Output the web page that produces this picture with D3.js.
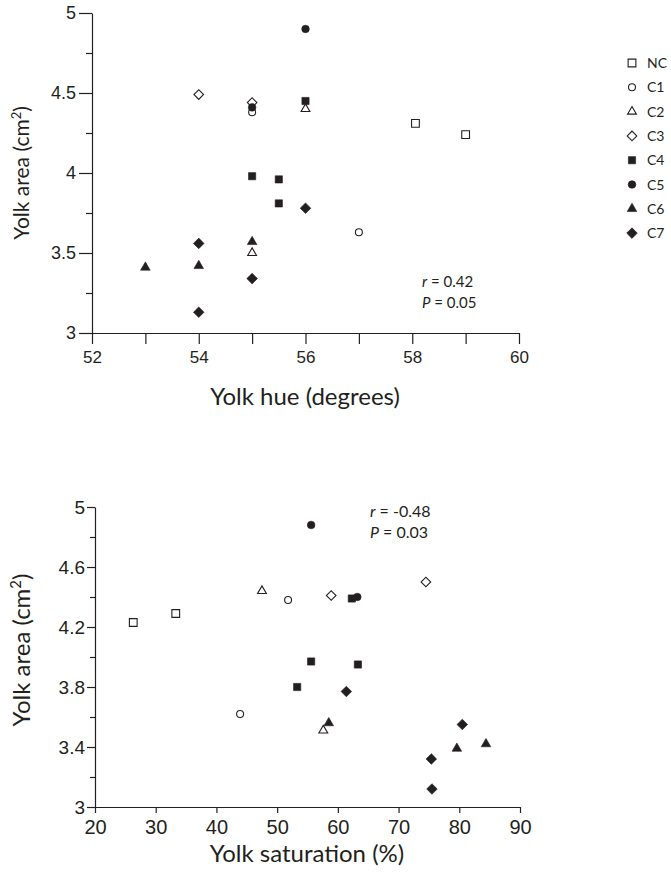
<!DOCTYPE html>
<html>
<head>
<meta charset="utf-8">
<script src="https://cdn.jsdelivr.net/npm/d3@7.9.0/dist/d3.min.js"></script>
<style>
  body { margin: 0; background: #fff; }
  svg { display: block; font-family: Lato, "Noto Sans", sans-serif; }
  .axis path, .axis line { stroke: #231f20; stroke-width: 1.2; }
  .axis text { fill: #231f20; }
</style>
</head>
<body>
<svg width="671" height="877"></svg>
<script>
const groups = ["NC", "C1", "C2", "C3", "C4", "C5", "C6", "C7"];

// top panel: yolk hue vs yolk area
const hueGroup = ["NC","NC","C1","C1","C2","C2","C3","C3","C4","C4","C4","C4","C5","C5","C6","C6","C6","C7","C7","C7","C7"];
const hueDeg   = [58.06, 59, 55, 57, 56, 55, 54, 55, 56, 55, 55.5, 55.5, 55, 56, 53, 54, 55, 54, 55, 54, 56];
const hueArea  = [4.31, 4.24, 4.38, 3.63, 4.40, 3.50, 4.49, 4.44, 4.45, 3.98, 3.96, 3.81, 4.41, 4.90, 3.41, 3.42, 3.57, 3.56, 3.34, 3.13, 3.78];

// bottom panel: yolk saturation vs yolk area
const satGroup = ["NC","NC","C1","C1","C2","C2","C3","C3","C4","C4","C4","C4","C5","C5","C6","C6","C6","C7","C7","C7","C7"];
const satPct   = [26.3, 33.3, 51.8, 43.9, 47.5, 57.6, 58.9, 74.5, 62.3, 53.3, 55.6, 63.3, 55.6, 63.2, 58.5, 84.4, 79.6, 61.4, 80.5, 75.4, 75.5];
const satArea  = [4.23, 4.29, 4.38, 3.62, 4.44, 3.51, 4.41, 4.50, 4.39, 3.80, 3.97, 3.95, 4.88, 4.40, 3.56, 3.42, 3.39, 3.77, 3.55, 3.32, 3.12];

const hueTicks = [52, 53, 54, 55, 56, 57, 58, 59, 60];
const hueLabels = [52, 54, 56, 58, 60];
const hueAreaTicks = [3, 3.5, 4, 4.5, 5];
const hueAreaMinor = [3.25, 3.75, 4.25, 4.75];
const satTicks = [20, 30, 40, 50, 60, 70, 80, 90];
const satAreaTicks = [3, 3.4, 3.8, 4.2, 4.6, 5];
const satAreaMinor = [3.2, 3.6, 4.0, 4.4, 4.8];

const ink = "#231f20";
const svg = d3.select("svg");

// marker style per group
const shape = {
  NC: { type: d3.symbolSquare, size: 60, fill: false, rot: 0 },
  C1: { type: d3.symbolCircle, size: 38, fill: false, rot: 0 },
  C2: { type: d3.symbolTriangle, size: 34, fill: false, rot: 0 },
  C3: { type: d3.symbolSquare, size: 46, fill: false, rot: 45 },
  C4: { type: d3.symbolSquare, size: 52, fill: true, rot: 0 },
  C5: { type: d3.symbolCircle, size: 46, fill: true, rot: 0 },
  C6: { type: d3.symbolTriangle, size: 40, fill: true, rot: 0 },
  C7: { type: d3.symbolSquare, size: 56, fill: true, rot: 45 }
};

function marker(sel, g, x, y) {
  const s = shape[g];
  sel.append("path")
    .attr("d", d3.symbol().type(s.type).size(s.size)())
    .attr("transform", `translate(${x},${y}) rotate(${s.rot})`)
    .attr("fill", s.fill ? ink : "#fff")
    .attr("stroke", ink)
    .attr("stroke-width", s.fill ? 0.6 : 1.1);
}

function yTitle(x, y, size) {
  const t = svg.append("text")
    .attr("transform", `translate(${x},${y}) rotate(-90)`)
    .attr("text-anchor", "middle")
    .attr("font-size", size)
    .attr("fill", ink);
  t.append("tspan").text("Yolk area (cm");
  t.append("tspan").attr("baseline-shift", "super").attr("font-size", size * 0.62).text("2");
  t.append("tspan").text(")");
}

// ---------- top panel ----------
const x1 = d3.scaleLinear().domain([52, 60]).range([92, 519]);
const y1 = d3.scaleLinear().domain([3, 5]).range([333, 13]);

svg.append("g").attr("class", "axis")
  .attr("transform", "translate(0,333)")
  .call(d3.axisBottom(x1).tickValues(hueTicks).tickSize(11).tickSizeOuter(0)
    .tickFormat(d => hueLabels.includes(d) ? d : ""))
  .call(g => g.selectAll("text").attr("font-size", 17).attr("dy", "0.95em"));

svg.append("g").attr("class", "axis")
  .attr("transform", "translate(92,0)")
  .call(d3.axisLeft(y1).tickValues(hueAreaMinor).tickSize(6).tickFormat(""))
  .call(g => g.select(".domain").remove());
svg.append("g").attr("class", "axis")
  .attr("transform", "translate(92,0)")
  .call(d3.axisLeft(y1).tickValues(hueAreaTicks).tickSize(13).tickSizeOuter(0).tickPadding(3)
    .tickFormat(d3.format("~g")))
  .call(g => g.selectAll("text").attr("font-size", 18));

hueGroup.forEach((g, i) => marker(svg, g, x1(hueDeg[i]), y1(hueArea[i])));

const a1 = svg.append("text").attr("x", 422).attr("y", 287).attr("font-size", 15).attr("fill", ink);
a1.append("tspan").attr("font-style", "italic").text("r");
a1.append("tspan").text(" = 0.42");
const a2 = svg.append("text").attr("x", 422).attr("y", 308).attr("font-size", 15).attr("fill", ink);
a2.append("tspan").attr("font-style", "italic").text("P");
a2.append("tspan").text(" = 0.05");

svg.append("text").attr("x", 305).attr("y", 405).attr("text-anchor", "middle")
  .attr("font-size", 24).attr("fill", ink).text("Yolk hue (degrees)");
yTitle(29, 173, 21);

// legend
const legend = svg.append("g");
groups.forEach((g, i) => {
  const cy = 63 + i * 24.3;
  marker(legend, g, 632, cy);
  legend.append("text").attr("x", 647).attr("y", cy + 5)
    .attr("font-size", 14).attr("fill", ink).text(g);
});

// ---------- bottom panel ----------
const x2 = d3.scaleLinear().domain([20, 90]).range([95, 520]);
const y2 = d3.scaleLinear().domain([3, 5]).range([807, 507]);

svg.append("g").attr("class", "axis")
  .attr("transform", "translate(0,807)")
  .call(d3.axisBottom(x2).tickValues(satTicks).tickSize(6).tickSizeOuter(0).tickPadding(5))
  .call(g => g.selectAll("text").attr("font-size", 20).attr("dy", "0.8em"));

svg.append("g").attr("class", "axis")
  .attr("transform", "translate(95,0)")
  .call(d3.axisLeft(y2).tickValues(satAreaMinor).tickSize(5).tickFormat(""))
  .call(g => g.select(".domain").remove());
svg.append("g").attr("class", "axis")
  .attr("transform", "translate(95,0)")
  .call(d3.axisLeft(y2).tickValues(satAreaTicks).tickSize(8).tickSizeOuter(0).tickPadding(2)
    .tickFormat(d3.format("~g")))
  .call(g => g.selectAll("text").attr("font-size", 19));

satGroup.forEach((g, i) => marker(svg, g, x2(satPct[i]), y2(satArea[i])));

const b1 = svg.append("text").attr("x", 370).attr("y", 517).attr("font-size", 16).attr("fill", ink);
b1.append("tspan").attr("font-style", "italic").text("r");
b1.append("tspan").text(" = -0.48");
const b2 = svg.append("text").attr("x", 370).attr("y", 538).attr("font-size", 16).attr("fill", ink);
b2.append("tspan").attr("font-style", "italic").text("P");
b2.append("tspan").text(" = 0.03");

svg.append("text").attr("x", 307).attr("y", 862).attr("text-anchor", "middle")
  .attr("font-size", 24).attr("fill", ink).text("Yolk saturation (%)");
yTitle(30, 650, 24);
</script>
</body>
</html>
